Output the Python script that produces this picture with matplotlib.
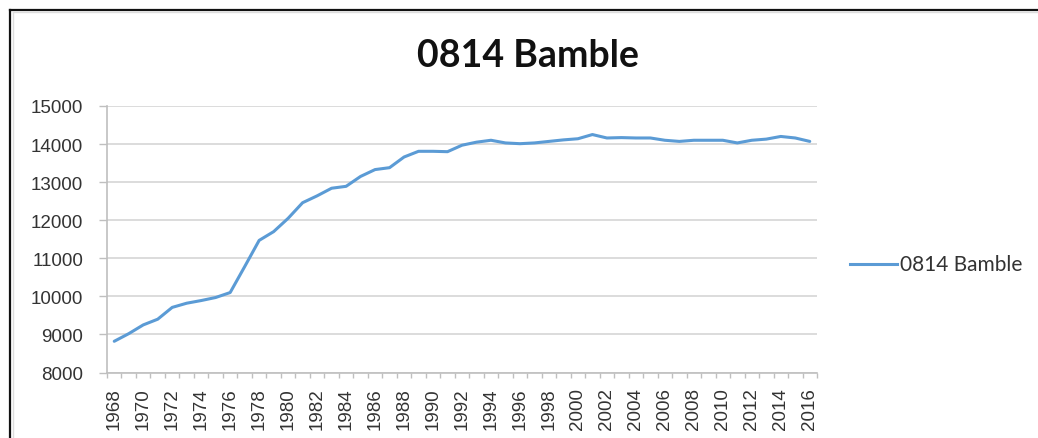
import matplotlib
matplotlib.use("Agg")
import matplotlib.pyplot as plt
from matplotlib.lines import Line2D
from matplotlib.ticker import FixedLocator, NullFormatter

title = "0814 Bamble"
series_name = "0814 Bamble"

years = list(range(1968, 2017))
population = [
    8820, 9020, 9250, 9400, 9710, 9820, 9890, 9970, 10100, 10780,
    11470, 11700, 12050, 12460, 12640, 12840, 12890, 13150, 13330, 13380,
    13660, 13810, 13810, 13800, 13970, 14050, 14100, 14030, 14010, 14030,
    14070, 14110, 14140, 14250, 14160, 14170, 14160, 14160, 14100, 14070,
    14100, 14100, 14100, 14030, 14100, 14130, 14200, 14160, 14070,
]
y_ticks = [8000, 9000, 10000, 11000, 12000, 13000, 14000, 15000]

W, H = 1038, 439
PX = 72 / 100  # points per pixel at 100 dpi
fig = plt.figure(figsize=(W / 100, H / 100), dpi=100)
fig.patch.set_facecolor("white")

left, right, top, bottom = 107, 817, 107, 373.5
ax = fig.add_axes([left / W, 1 - bottom / H, (right - left) / W, (bottom - top) / H])

grid_col = "#d9d9d9"
axis_col = "#bfbfbf"
line_col = "#5b9bd5"
text_col = "#333333"
tick_font = dict(fontfamily="Liberation Sans", fontsize=13.5, color=text_col)

x = list(range(len(years)))
ax.plot(x, population, color=line_col, lw=2.2, solid_joinstyle="round",
        solid_capstyle="round", zorder=3)

ax.set_xlim(-0.5, len(years) - 0.5)
ax.set_ylim(y_ticks[0], y_ticks[-1])

ax.set_yticks(y_ticks)
ax.set_yticklabels([str(v) for v in y_ticks], **tick_font)
ax.tick_params(axis="y", length=8 * PX, width=1, color=axis_col, pad=16 * PX)
ax.yaxis.grid(True, color=grid_col, lw=1.3)
ax.set_axisbelow(True)

label_pos = [i for i in x if i % 2 == 0]
ax.xaxis.set_major_locator(FixedLocator(label_pos))
ax.set_xticklabels([str(years[i]) for i in label_pos], rotation=90, **tick_font)
ax.xaxis.set_minor_locator(FixedLocator([i - 0.5 for i in range(len(years) + 1)]))
ax.xaxis.set_minor_formatter(NullFormatter())
ax.tick_params(axis="x", which="major", length=0, pad=15 * PX)
ax.tick_params(axis="x", which="minor", length=5 * PX, width=1, color=axis_col)

for side in ("top", "right"):
    ax.spines[side].set_visible(False)
for side in ("left", "bottom"):
    ax.spines[side].set_color(axis_col)
    ax.spines[side].set_linewidth(1.2)

fig.text(528 / W, 1 - 56 / H, title, ha="center", va="center",
         fontfamily="Lato", fontweight="bold", fontsize=27, color="#111111")

# legend entry
fig.add_artist(Line2D([850 / W, 897 / W], [1 - 265 / H, 1 - 265 / H],
                      color=line_col, lw=2.2, transform=fig.transFigure))
fig.text(900 / W, 1 - 265 / H, series_name, ha="left", va="center",
         fontfamily="Lato", fontsize=15, color=text_col)

# chart frame
fig.add_artist(Line2D([9.5 / W, 1.0], [1 - 10.5 / H, 1 - 10.5 / H],
                      color="#111111", lw=1.6, transform=fig.transFigure))
fig.add_artist(Line2D([9.5 / W, 9.5 / W], [1 - 10.5 / H, 0],
                      color="#111111", lw=1.6, transform=fig.transFigure))
fig.add_artist(Line2D([12.5 / W, 1.0], [1 - 13 / H, 1 - 13 / H],
                      color="#dddddd", lw=1, transform=fig.transFigure))
fig.add_artist(Line2D([12.5 / W, 12.5 / W], [1 - 13 / H, 0],
                      color="#dddddd", lw=1, transform=fig.transFigure))

fig.savefig("out.png", dpi=100)
